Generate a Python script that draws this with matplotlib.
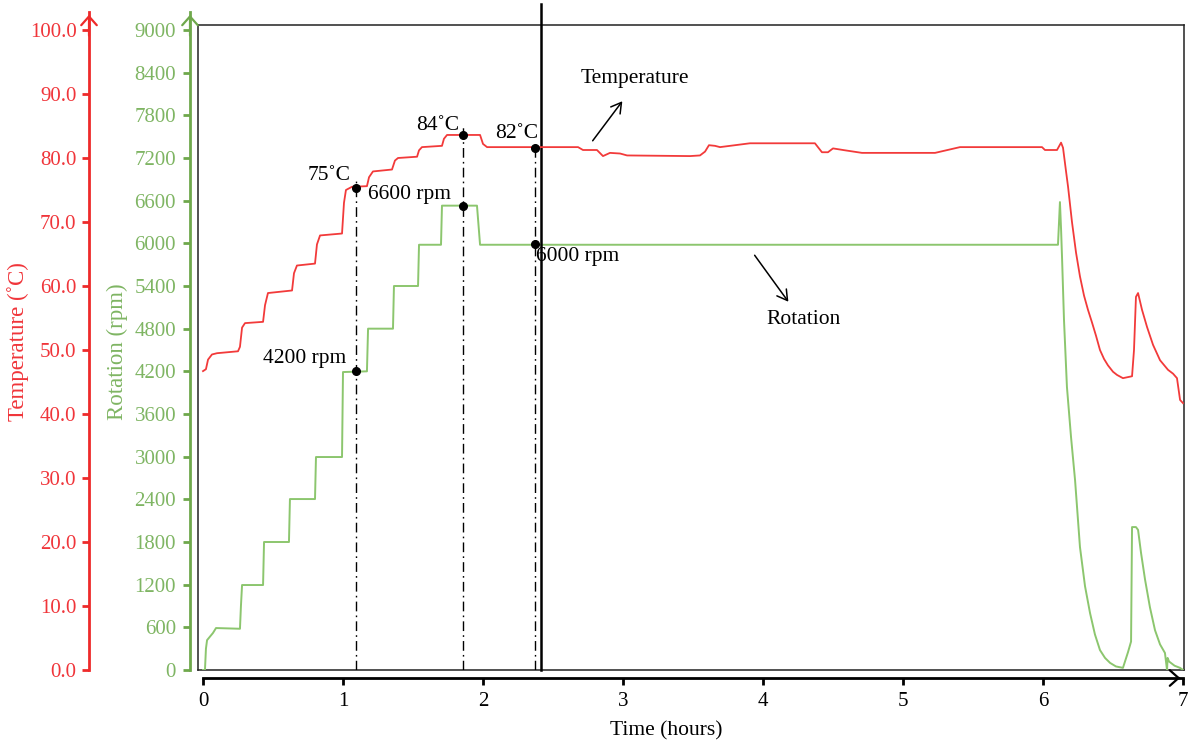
import matplotlib
matplotlib.use("Agg")
import matplotlib.pyplot as plt
import numpy as np

plt.rcParams['font.family'] = ['Liberation Serif', 'DejaVu Serif']

# ---------------- data ----------------
temp_time = [0.0, 0.021, 0.036, 0.064, 0.1, 0.25, 0.264, 0.279, 0.3, 0.429, 0.443, 0.464,
             0.636, 0.65, 0.671, 0.8, 0.814, 0.836, 0.993, 1.007, 1.021, 1.064, 1.171, 1.186,
             1.214, 1.35, 1.371, 1.393, 1.529, 1.543, 1.564, 1.707, 1.721, 1.743, 1.979, 2.0,
             2.029, 2.679, 2.714, 2.814, 2.857, 2.907, 2.979, 3.029, 3.479, 3.55, 3.586, 3.614,
             3.657, 3.693, 3.8, 3.907, 4.371, 4.421, 4.464, 4.5, 4.586, 4.707, 5.229, 5.407,
             5.993, 6.014, 6.1, 6.129, 6.143, 6.164, 6.179, 6.207, 6.236, 6.264, 6.293, 6.321,
             6.35, 6.379, 6.407, 6.436, 6.464, 6.5, 6.529,
             6.571, 6.636, 6.65, 6.664, 6.679, 6.707, 6.743, 6.786, 6.836, 6.893, 6.929, 6.957,
             6.979, 7.0]
temp_vals = [46.7, 47.0, 48.5, 49.3, 49.5, 49.8, 50.5, 53.5, 54.2, 54.4, 57.0, 58.9,
             59.3, 62.0, 63.2, 63.5, 66.5, 67.9, 68.2, 73.0, 75.0, 75.5, 75.6, 77.0,
             77.9, 78.2, 79.6, 80.0, 80.2, 81.2, 81.7, 81.9, 83.0, 83.6, 83.6, 82.2,
             81.7, 81.7, 81.25, 81.25, 80.3, 80.8, 80.7, 80.4, 80.3, 80.4, 81.0, 82.0,
             81.9, 81.7, 82.0, 82.3, 82.3, 80.9, 80.9, 81.5, 81.2, 80.8, 80.8, 81.7,
             81.7, 81.25, 81.25, 82.4, 81.6, 78.0, 75.5, 70.0, 65.2, 61.5, 58.5, 56.3,
             54.3, 52.2, 50.0, 48.6, 47.6, 46.6, 46.1,
             45.6, 45.9, 50.0, 58.3, 58.9, 56.3, 53.6, 50.8, 48.4, 46.9, 46.3, 45.6,
             42.2, 41.7]

rpm_time = [0.0, 0.014, 0.021, 0.029, 0.071, 0.093, 0.264, 0.271, 0.279, 0.429, 0.436,
            0.614, 0.621, 0.8, 0.807, 0.993, 1.0, 1.171, 1.179, 1.357, 1.364, 1.536, 1.543,
            1.7, 1.707, 1.957, 1.979, 6.107, 6.121, 6.129, 6.136, 6.15, 6.171, 6.2, 6.229,
            6.264, 6.3, 6.336, 6.371, 6.407, 6.443, 6.479, 6.521, 6.571, 6.607, 6.629, 6.636,
            6.664, 6.679, 6.7, 6.729, 6.764, 6.8, 6.836, 6.871, 6.886, 6.89, 6.9, 6.94, 6.979,
            7.0]
rpm_vals = [0, 0, 300, 420, 520, 590, 580, 900, 1195, 1195, 1800,
            1800, 2404, 2404, 2995, 2995, 4190, 4200, 4800, 4800, 5400, 5400, 5980,
            5980, 6530, 6530, 5980, 5980, 6580, 6200, 5800, 4920, 3980, 3280, 2670,
            1730, 1180, 800, 500, 280, 170, 100, 50, 30, 250, 400, 2010,
            2010, 1970, 1650, 1270, 880, 560, 360, 240, 0, 170, 120, 60, 30,
            0]

mark_time = [1.093, 1.857, 2.371]
mark_temp = [75.3, 83.6, 81.6]
mark_temp_lbl = ['75˚C', '84˚C', '82˚C']
mark_rpm = [4200, 6530, 5990]
mark_rpm_lbl = ['4200 rpm', '6600 rpm', '6000 rpm']
cut_time = 2.414

temp_ticks = np.arange(0, 101, 10)
rpm_ticks = np.arange(0, 9001, 600)
x_ticks = np.arange(0, 8, 1)

# ---------------- style ----------------
RED_LINE = '#f23a3a'
RED = '#ee2a2a'
RED_TXT = '#f0353a'
GREEN_LINE = '#8cc66e'
GREEN = '#6fa84c'
GREEN_TXT = '#7fb563'

W, H = 1188, 744
fig = plt.figure(figsize=(W / 100, H / 100), dpi=100)


def fx(x):
    return x / W


def fy(y):
    return (H - y) / H


# frame geometry (pixels)
L, R, T, B = 198, 1184, 25, 670
PX_PER_H = 140.0
X0 = 203
xlim = ((L - X0) / PX_PER_H, (R - X0) / PX_PER_H)
rpm_top = (B - T) * 9000 / 640.0
temp_top = (B - T) / 6.4

ax = fig.add_axes([fx(L), fy(B), fx(R - L), (B - T) / H])
ax.set_xlim(*xlim)
ax.set_ylim(0, rpm_top)
ax.set_xticks([])
ax.set_yticks([])
for s in ax.spines.values():
    s.set_color('#222222')
    s.set_linewidth(1.1)

axt = ax.twinx()
axt.set_ylim(0, temp_top)
axt.set_yticks([])
for s in axt.spines.values():
    s.set_visible(False)

ax.plot(rpm_time, rpm_vals, color=GREEN_LINE, lw=1.4, zorder=3)
axt.plot(temp_time, temp_vals, color=RED_LINE, lw=1.3, zorder=3)

# dash-dot guide lines
dd = (0, (7, 3, 1.2, 3))
guide_tops = [76.6, 84.8, 81.6]
for t, top in zip(mark_time, guide_tops):
    axt.plot([t, t], [0, top], color='black', lw=1.0, linestyle=dd, zorder=4)

# vertical cut line
ax.plot([cut_time, cut_time], [0, (B - 4) * 9000 / 640.0], color='black', lw=1.8,
        clip_on=False, zorder=5)

# markers
axt.plot(mark_time, mark_temp, 'o', color='black', ms=5.5, zorder=6)
ax.plot(mark_time, mark_rpm, 'o', color='black', ms=5.5, zorder=6)

# annotation texts (pixel positions)
fs_ann = 15.5


def ptext(x, y, s, ha='center', **kw):
    fig.text(fx(x), fy(y), s, ha=ha, va='center', fontsize=fs_ann, **kw)


ptext(351, 176, mark_temp_lbl[0], ha='right')
ptext(459, 125, mark_temp_lbl[1], ha='right')
ptext(538, 133, mark_temp_lbl[2], ha='right')
ptext(346, 359, mark_rpm_lbl[0], ha='right')
ptext(451, 194, mark_rpm_lbl[1], ha='right')
ptext(536, 257, mark_rpm_lbl[2], ha='left')
ptext(635, 78, 'Temperature')
ptext(804, 320, 'Rotation')

fig.add_artist(matplotlib.patches.FancyArrowPatch(
    (fx(591), fy(143)), (fx(624), fy(99)), transform=fig.transFigure,
    arrowstyle='->,head_length=0.6,head_width=0.35', mutation_scale=12,
    color='black', lw=1.1))
fig.add_artist(matplotlib.patches.FancyArrowPatch(
    (fx(753), fy(253)), (fx(790), fy(304)), transform=fig.transFigure,
    arrowstyle='->,head_length=0.6,head_width=0.35', mutation_scale=12,
    color='black', lw=1.1))

# ---------------- left axes (red temperature, green rotation) ----------------
SP_TOP = 12


def side_axis(xpix, top_val, ticks, labels, col, txtcol, pad):
    a = fig.add_axes([fx(xpix), fy(B), 0.0005, (B - SP_TOP) / H])
    a.patch.set_visible(False)
    for k in ('top', 'right', 'bottom'):
        a.spines[k].set_visible(False)
    a.spines['left'].set_color(col)
    a.spines['left'].set_linewidth(2.0)
    a.set_xticks([])
    a.set_ylim(0, top_val)
    a.set_yticks(ticks)
    a.set_yticklabels(labels)
    a.tick_params(axis='y', colors=col, length=5, width=2.0, pad=pad,
                  labelsize=15, labelcolor=txtcol)
    a.annotate('', xy=(0, 1.0), xycoords='axes fraction', xytext=(0, 0.96),
               arrowprops=dict(arrowstyle='->,head_length=0.45,head_width=0.4',
                               color=col, lw=1.6, mutation_scale=14))
    return a


side_axis(89, (B - SP_TOP) / 6.4, temp_ticks, [f'{v:.1f}' for v in temp_ticks],
          RED, RED_TXT, 4)
side_axis(190, (B - SP_TOP) * 9000 / 640.0, rpm_ticks, [str(v) for v in rpm_ticks],
          GREEN, GREEN_TXT, 5)

fig.text(fx(18), fy(342), 'Temperature (˚C)', rotation=90, color=RED_TXT,
         fontsize=16.5, ha='center', va='center')
fig.text(fx(117), fy(352), 'Rotation (rpm)', rotation=90, color=GREEN_TXT,
         fontsize=16.5, ha='center', va='center')

# ---------------- x axis ----------------
XAX = 678
axx = fig.add_axes([fx(L), fy(XAX), fx(R - L), 0.001])
axx.patch.set_visible(False)
for k in ('top', 'right', 'left'):
    axx.spines[k].set_visible(False)
axx.spines['bottom'].set_linewidth(2.0)
axx.spines['bottom'].set_color('black')
axx.spines['bottom'].set_bounds(0, 7)
axx.set_xlim(*xlim)
axx.set_yticks([])
axx.set_xticks(x_ticks)
axx.set_xticklabels([str(v) for v in x_ticks])
axx.tick_params(axis='x', length=5, width=2.0, pad=5, labelsize=15)
axx.annotate('', xy=(7.0, 0), xycoords=('data', 'axes fraction'),
             xytext=(6.95, 0), textcoords=('data', 'axes fraction'),
             arrowprops=dict(arrowstyle='->,head_length=0.45,head_width=0.4',
                             color='black', lw=1.6, mutation_scale=14))
fig.text(fx(666), fy(731), 'Time (hours)', fontsize=15.5, ha='center', va='center')

fig.savefig('out.png', dpi=100)
